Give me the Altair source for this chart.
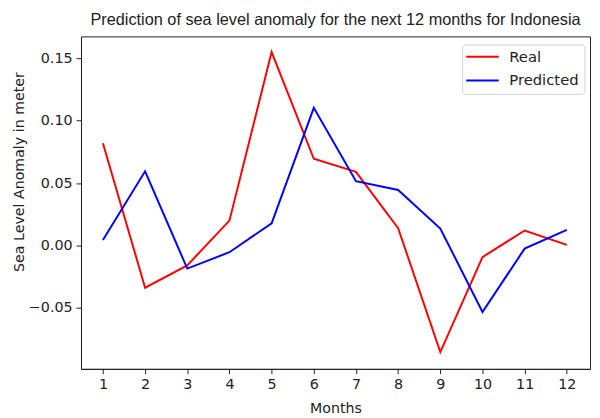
import altair as alt
import pandas as pd

months = list(range(1, 13))
real = [0.0819, -0.0337, -0.0158, 0.0200, 0.1550, 0.0695, 0.0590, 0.0140, -0.0853, -0.0092, 0.0121, 0.0006]
predicted = [0.0045, 0.0595, -0.0184, -0.0053, 0.0179, 0.1103, 0.0516, 0.0445, 0.0137, -0.0532, -0.0024, 0.0126]
series_names = ["Real", "Predicted"]
y_ticks = [-0.05, 0.0, 0.05, 0.10, 0.15]

rows = []
for m, r, p in zip(months, real, predicted):
    rows.append({"Month": m, "Value": r, "Series": "Real"})
    rows.append({"Month": m, "Value": p, "Series": "Predicted"})
df = pd.DataFrame(rows)

font = "DejaVu Sans"

chart = alt.Chart(df).mark_line(strokeWidth=2).encode(
    x=alt.X("Month:Q",
            scale=alt.Scale(domain=[0.48, 12.55], nice=False, zero=False),
            axis=alt.Axis(values=months, title="Months", grid=False, format="d", titlePadding=11)),
    y=alt.Y("Value:Q",
            scale=alt.Scale(domain=[-0.0987, 0.1675], nice=False, zero=False),
            axis=alt.Axis(values=y_ticks, title="Sea Level Anomaly in meter", grid=False,
                          titleX=-55, titleY=137,
                          labelExpr="replace(format(datum.value, '.2f'), '-', '\u2212')")),
    color=alt.Color("Series:N",
                    scale=alt.Scale(domain=series_names, range=["#ff0000", "#0000ff"]),
                    legend=alt.Legend(title=None, orient="none", legendX=386.4, legendY=8.2,
                                      symbolType="M-3.3,0H3.3", symbolSize=100, symbolStrokeWidth=2,
                                      symbolOffset=8.1,
                                      labelFontSize=15, labelFont=font, labelColor="#222",
                                      strokeColor="#d0d0d0", fillColor="white", padding=5,
                                      cornerRadius=3, rowPadding=8, labelOffset=19.6)),
    detail="Series:N",
).properties(
    width=516,
    height=337,
    title=alt.TitleParams("Prediction of sea level anomaly for the next 12 months for Indonesia",
                          font="Liberation Sans", fontSize=16.5, fontWeight="normal", color="#222",
                          offset=8),
    autosize=alt.AutoSizeParams(type="none"),
    padding={"left": 74, "top": 26, "right": 2, "bottom": 47},
).configure_view(
    stroke="#222", strokeWidth=1
).configure_axis(
    domainColor="#222", tickColor="#222", tickSize=5, labelFont=font, labelFontSize=14.5,
    labelColor="#222", titleFont=font, titleFontSize=14.4, titleFontWeight="normal",
    titleColor="#222", labelPadding=4
)

chart.save("out.html", embed_options={"renderer": "svg", "actions": False})
